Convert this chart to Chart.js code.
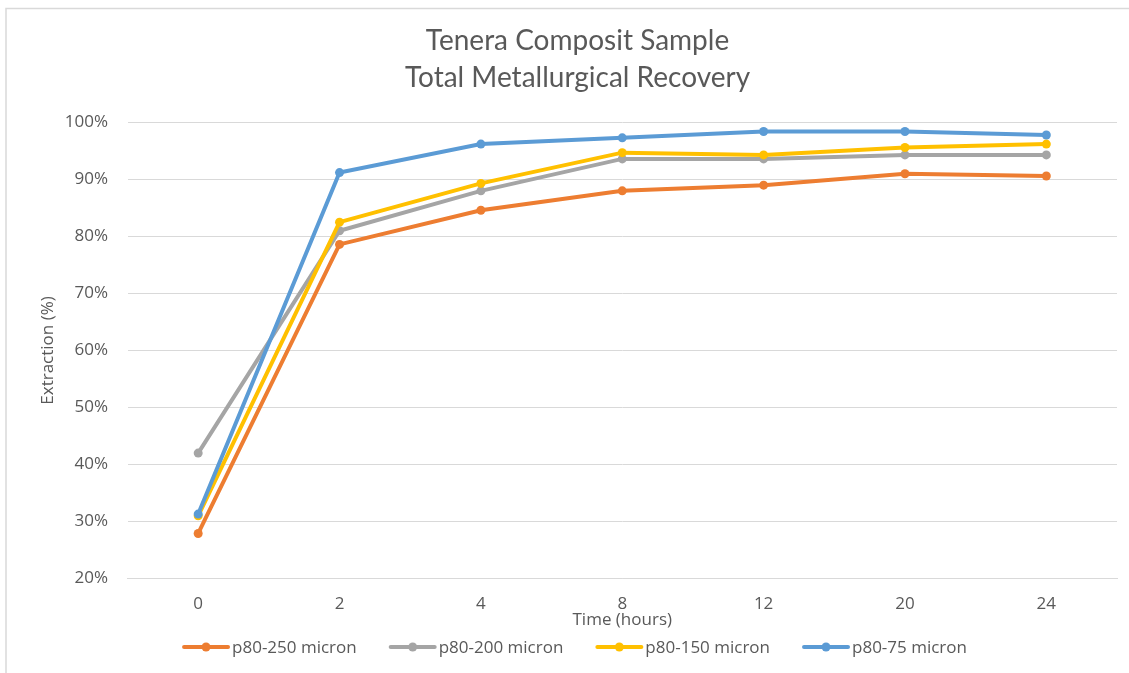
<!DOCTYPE html>
<html lang="en">
  <head>
    <meta charset="UTF-8" />
    <title>Tenera Composit Sample</title>
    <script src="https://cdnjs.cloudflare.com/ajax/libs/Chart.js/4.4.1/chart.umd.min.js"></script>
    <style>
      html, body { margin: 0; padding: 0; background: #fff; }
      #wrap { width: 1129px; height: 673px; position: relative; }
    </style>
  </head>
  <body>
    <div id="wrap"><canvas id="chart"></canvas></div>
    <script>
      // time points (hours) on the category axis
      const hours = ['0', '2', '4', '8', '12', '20', '24'];

      // extraction (%) per grind size
      const p80_250 = [27.9, 78.6, 84.6, 88.0, 89.0, 91.0, 90.6];
      const p80_200 = [42.0, 81.0, 88.0, 93.6, 93.6, 94.3, 94.3];
      const p80_150 = [31.0, 82.5, 89.3, 94.7, 94.3, 95.6, 96.2];
      const p80_75 = [31.3, 91.2, 96.2, 97.3, 98.4, 98.4, 97.8];

      const seriesNames = ['p80-250 micron', 'p80-200 micron', 'p80-150 micron', 'p80-75 micron'];
      const seriesColors = ['#ED7D31', '#A5A5A5', '#FFC000', '#5B9BD5'];

      const FONT = '"Open Sans", sans-serif';
      const TITLE_FONT = 'Lato, sans-serif';
      const TEXT = '#595959';
      const GRID = '#d9d9d9';

      function makeSet(i, values) {
        return {
          label: seriesNames[i],
          data: values,
          borderColor: seriesColors[i],
          backgroundColor: seriesColors[i],
          borderWidth: 4,
          pointRadius: 4.5,
          pointHoverRadius: 4.5,
          pointBorderWidth: 0,
          tension: 0,
          order: 4 - i, // later series drawn on top, like Excel
        };
      }

      // frame on the left/top edge and an Excel style legend (line + round marker)
      const excelBits = {
        id: 'excelBits',
        beforeDraw(chart) {
          const ctx = chart.ctx;
          ctx.save();
          ctx.strokeStyle = GRID;
          ctx.lineWidth = 1.5;
          ctx.beginPath();
          ctx.moveTo(6, 673);
          ctx.lineTo(6, 8.5);
          ctx.lineTo(1129, 8.5);
          ctx.stroke();
          ctx.restore();
        },
        afterDraw(chart) {
          const ctx = chart.ctx;
          const lineLen = 48, gap = 2, itemGap = 32, y = 647;
          ctx.save();
          ctx.font = '17px ' + FONT;
          const widths = seriesNames.map((n) => ctx.measureText(n).width);
          const total = widths.reduce((a, w) => a + lineLen + gap + w, 0) + itemGap * (seriesNames.length - 1);
          let x = 574.5 - total / 2;
          seriesNames.forEach((name, i) => {
            ctx.strokeStyle = seriesColors[i];
            ctx.fillStyle = seriesColors[i];
            ctx.lineWidth = 4;
            ctx.lineCap = 'round';
            ctx.beginPath();
            ctx.moveTo(x + 2, y);
            ctx.lineTo(x + lineLen - 2, y);
            ctx.stroke();
            ctx.beginPath();
            ctx.arc(x + lineLen / 2, y, 4.5, 0, Math.PI * 2);
            ctx.fill();
            ctx.fillStyle = TEXT;
            ctx.textBaseline = 'middle';
            ctx.textAlign = 'left';
            ctx.fillText(name, x + lineLen + gap, y + 1);
            x += lineLen + gap + widths[i] + itemGap;
          });
          ctx.restore();
        },
      };

      new Chart(document.getElementById('chart').getContext('2d'), {
        type: 'line',
        data: {
          labels: hours,
          datasets: [
            makeSet(0, p80_250),
            makeSet(1, p80_200),
            makeSet(2, p80_150),
            makeSet(3, p80_75),
          ],
        },
        options: {
          responsive: true,
          maintainAspectRatio: false,
          animation: false,
          layout: { padding: { left: 38, right: 12, top: 0, bottom: 42.8 } },
          plugins: {
            title: {
              display: true,
              text: ['Tenera Composit Sample', 'Total Metallurgical Recovery'],
              color: TEXT,
              font: { family: TITLE_FONT, size: 28, weight: 'normal', lineHeight: 1.32 },
              padding: { top: 22.5, bottom: 26 },
            },
            legend: { display: false },
            tooltip: { enabled: false },
          },
          scales: {
            x: {
              offset: true,
              afterFit(scale) { scale.height = 51.7; },
              grid: { display: false, drawTicks: false },
              border: { color: GRID, width: 1 },
              ticks: { color: TEXT, font: { family: FONT, size: 17 }, padding: 15.8 },
              title: {
                display: true,
                text: 'Time (hours)',
                color: TEXT,
                font: { family: FONT, size: 17 },
                padding: 0,
              },
            },
            y: {
              min: 20,
              max: 100,
              afterFit(scale) { scale.width = 89.5; },
              grid: { color: GRID, drawTicks: false },
              border: { display: false },
              ticks: {
                stepSize: 10,
                color: TEXT,
                font: { family: FONT, size: 17 },
                padding: 19.5,
                callback: (v) => v + '%',
              },
              title: {
                display: true,
                text: 'Extraction (%)',
                color: TEXT,
                font: { family: FONT, size: 17 },
                padding: 0,
              },
            },
          },
        },
        plugins: [excelBits],
      });
    </script>
  </body>
</html>
